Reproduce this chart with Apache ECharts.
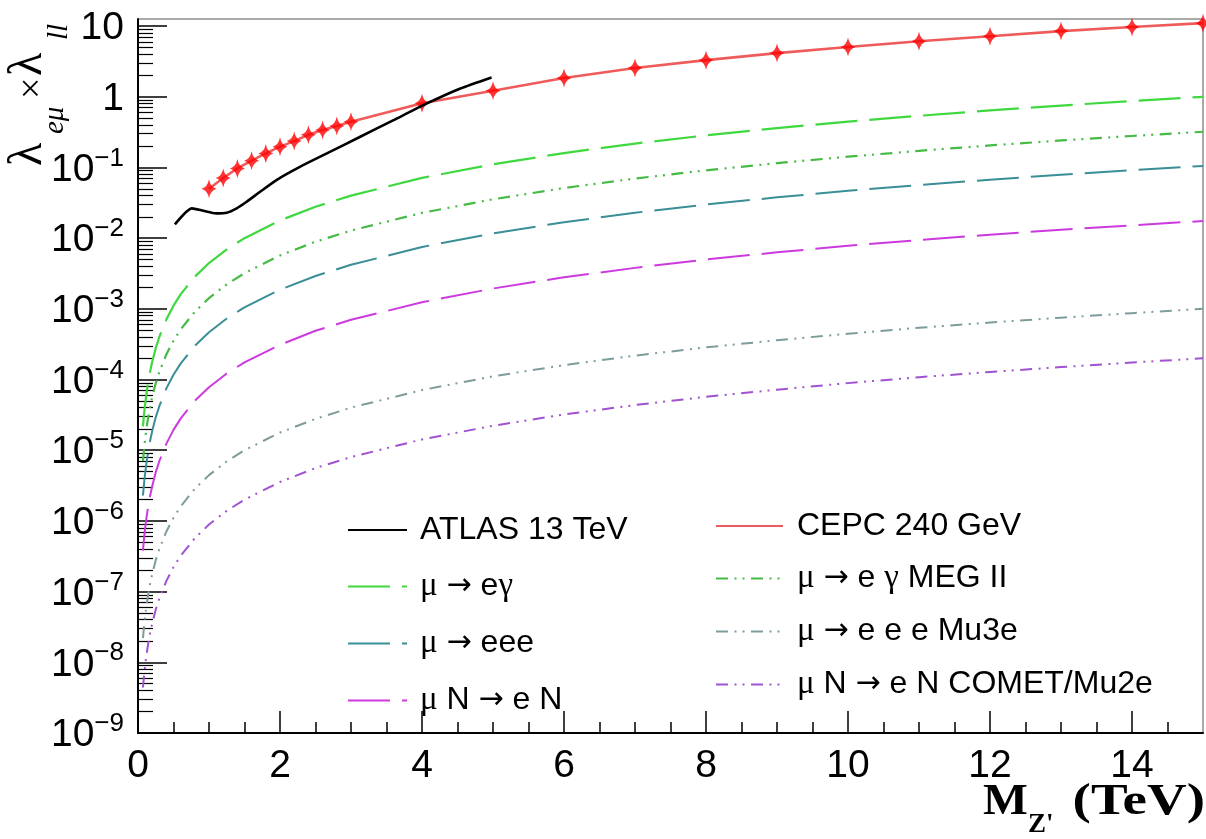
<!DOCTYPE html>
<html><head><meta charset="utf-8">
<script src="https://cdn.jsdelivr.net/npm/echarts@6/dist/echarts.min.js"></script>
<style>html,body{margin:0;padding:0;background:#fff}#c{width:1206px;height:839px}</style>
</head><body><div id="c"></div>
<script>
// ---- data ----
const massGrid = [0.07,0.08,0.09,0.1,0.12,0.14,0.17,0.2,0.25,0.3,0.4,0.5,0.6,0.8,1,1.25,1.5,2,2.5,3,4,5,6,7,8,9,10,11,12,13,14,15];
const muEgamma = [2.18e-5,2.85e-5,3.6e-5,4.45e-5,6.4e-5,8.7e-5,1.29e-4,1.78e-4,2.78e-4,4.0e-4,7.1e-4,1.11e-3,1.6e-3,2.85e-3,4.45e-3,6.95e-3,0.0100,0.0178,0.0278,0.040,0.0712,0.111,0.160,0.218,0.285,0.360,0.445,0.538,0.641,0.752,0.872,1.0];
const muEgammaMEG = [7.0e-6,9.1e-6,1.15e-5,1.42e-5,2.05e-5,2.78e-5,4.1e-5,5.7e-5,8.9e-5,1.28e-4,2.27e-4,3.55e-4,5.1e-4,9.1e-4,1.42e-3,2.22e-3,3.2e-3,5.7e-3,8.9e-3,0.0128,0.0228,0.0355,0.0512,0.0697,0.0912,0.115,0.142,0.172,0.205,0.241,0.279,0.32];
const muEee = [2.29e-6,2.99e-6,3.78e-6,4.67e-6,6.7e-6,9.1e-6,1.35e-5,1.87e-5,2.92e-5,4.2e-5,7.5e-5,1.17e-4,1.68e-4,2.99e-4,4.67e-4,7.3e-4,1.05e-3,1.87e-3,2.92e-3,4.2e-3,7.5e-3,0.0117,0.0168,0.0229,0.0299,0.0378,0.0467,0.0565,0.0672,0.079,0.0915,0.105];
const muNeN = [3.8e-7,5.0e-7,6.3e-7,7.8e-7,1.12e-6,1.52e-6,2.25e-6,3.1e-6,4.9e-6,7.0e-6,1.24e-5,1.94e-5,2.8e-5,5.0e-5,7.8e-5,1.22e-4,1.75e-4,3.1e-4,4.9e-4,7.0e-4,1.24e-3,1.94e-3,2.8e-3,3.8e-3,5.0e-3,6.3e-3,7.8e-3,9.4e-3,0.0112,0.0132,0.0152,0.0175];
const muEeeMu3e = [2.2e-8,2.85e-8,3.6e-8,4.45e-8,6.4e-8,8.7e-8,1.29e-7,1.78e-7,2.78e-7,4.0e-7,7.1e-7,1.11e-6,1.6e-6,2.85e-6,4.45e-6,6.95e-6,1.0e-5,1.78e-5,2.78e-5,4.0e-5,7.1e-5,1.11e-4,1.6e-4,2.18e-4,2.85e-4,3.6e-4,4.45e-4,5.4e-4,6.4e-4,7.5e-4,8.7e-4,1.0e-3];
const muNeNComet = [4.4e-9,5.7e-9,7.2e-9,8.9e-9,1.28e-8,1.74e-8,2.57e-8,3.56e-8,5.6e-8,8.0e-8,1.42e-7,2.22e-7,3.2e-7,5.7e-7,8.9e-7,1.39e-6,2.0e-6,3.56e-6,5.6e-6,8.0e-6,1.42e-5,2.22e-5,3.2e-5,4.36e-5,5.7e-5,7.2e-5,8.9e-5,1.08e-4,1.28e-4,1.5e-4,1.74e-4,2.0e-4];

const atlasMass = [0.52,0.76,0.92,1.1,1.25,1.39,1.53,1.72,1.95,2.28,2.66,3.13,3.6,4.07,4.54,4.98];
const atlasVal  = [0.0157,0.0264,0.0244,0.0224,0.0229,0.0264,0.0327,0.0453,0.0664,0.102,0.158,0.272,0.468,0.805,1.31,1.88];

const cepcMass = [1,1.2,1.4,1.6,1.8,2.0,2.2,2.4,2.6,2.8,3.0,4,5,6,7,8,9,10,11,12,13,14,15];
const cepcVal  = [0.050,0.071,0.097,0.125,0.158,0.197,0.236,0.29,0.34,0.387,0.445,0.81,1.22,1.84,2.55,3.3,4.15,5.05,6.1,7.2,8.5,9.7,11.0];

const yTickValues = [1e-9,1e-8,1e-7,1e-6,1e-5,1e-4,1e-3,1e-2,1e-1,1,10];
const xTickValues = [0,2,4,6,8,10,12,14];
const legendLeft = ['ATLAS 13 TeV','μ → eγ','μ → eee','μ N → e N'];
const legendRight = ['CEPC 240 GeV','μ → e γ MEG II','μ → e e e Mu3e','μ N → e N COMET/Mu2e'];

// ---- helpers ----
const pairs = (xs, ys) => xs.map((x, i) => [x, ys[i]]);
const yMinor = [];
for (let e = -9; e <= 0; e++) for (let k = 2; k <= 9; k++) yMinor.push(k * Math.pow(10, e));
const xMinor = [];
for (let v = 0.5; v < 15; v += 0.5) if (Math.abs(v / 2 - Math.round(v / 2)) > 1e-9) xMinor.push(v);

const SANS = 'Liberation Sans';
const SERIF = 'Liberation Serif';
const LONG = [42, 12];
const DDOT = [12, 6.5, 2, 6, 2, 6.5];

function curve(name, arr, color, dash, width) {
  return {
    name, type: 'line', data: pairs(massGrid, arr), symbol: 'none', showSymbol: false,
    smooth: false, xAxisIndex: 0, yAxisIndex: 0,
    lineStyle: { color, width: width || 2, type: dash, cap: 'butt' },
    itemStyle: { color }, emphasis: { disabled: true }, z: 2
  };
}

const legendRich = {
  g: { fontFamily: SERIF, fontSize: 33, color: '#000', lineHeight: 32 },
  a: { fontFamily: 'DejaVu Sans', fontSize: 30, color: '#000', lineHeight: 32 }
};
const legendFmt = name => name.replace(/([μγ])/g, '{g|$1}').replace(/→/g, '{a|→}');

const chart = echarts.init(document.getElementById('c'), null, { renderer: 'canvas' });
chart.setOption({
  animation: false,
  backgroundColor: '#ffffff',
  textStyle: { fontFamily: SANS },
  grid: { left: 138, right: 3, top: 19, bottom: 106, containLabel: false, outerBoundsMode: 'none',
          show: true, borderColor: '#555', borderWidth: 1, backgroundColor: 'transparent' },
  xAxis: [{
    type: 'value', min: 0, max: 15, position: 'bottom',
    axisLine: { show: true, onZero: false, lineStyle: { color: '#000', width: 2 } },
    axisTick: { show: true, inside: true, length: 22, customValues: xTickValues, lineStyle: { color: '#000', width: 1.5 } },
    axisLabel: { show: true, customValues: xTickValues, margin: 14, fontSize: 39, color: '#000', fontFamily: SANS },
    splitLine: { show: false }
  }, {
    type: 'value', min: 0, max: 15, position: 'bottom',
    axisLine: { show: false }, axisLabel: { show: false }, splitLine: { show: false },
    axisTick: { show: true, inside: true, length: 11, customValues: xMinor, lineStyle: { color: '#000', width: 1.5 } }
  }],
  yAxis: [{
    type: 'log', logBase: 10, min: 1e-9, max: 12.6, position: 'left',
    axisLine: { show: true, onZero: false, lineStyle: { color: '#000', width: 2 } },
    axisTick: { show: true, inside: true, length: 29, customValues: yTickValues, lineStyle: { color: '#000', width: 1.5 } },
    axisLabel: {
      show: true, customValues: yTickValues, margin: 14, color: '#000',
      formatter: function (v) {
        const e = Math.round(Math.log10(v));
        if (e === 0) return '{b|1}';
        if (e === 1) return '{b|10}';
        return '{b|10}{s|' + (e < 0 ? '\u2212' : '') + Math.abs(e) + '}';
      },
      rich: {
        b: { fontSize: 39, fontFamily: SANS, color: '#000', lineHeight: 44, verticalAlign: 'bottom' },
        s: { fontSize: 26, fontFamily: SANS, color: '#000', lineHeight: 20, verticalAlign: 'top' }
      }
    },
    splitLine: { show: false }
  }, {
    type: 'log', logBase: 10, min: 1e-9, max: 12.6, position: 'left',
    axisLine: { show: false }, axisLabel: { show: false }, splitLine: { show: false },
    axisTick: { show: true, inside: true, length: 15, customValues: yMinor, lineStyle: { color: '#000', width: 1.2 } }
  }],
  legend: [{
    data: legendLeft, left: 347, top: 514, orient: 'vertical', padding: 0,
    itemWidth: 59, itemHeight: 14, itemGap: 24, selectedMode: false,
    itemStyle: { opacity: 0 },
    formatter: legendFmt,
    textStyle: { fontSize: 32, fontFamily: SANS, color: '#000', lineHeight: 32, padding: [0, 0, 0, 8], rich: legendRich }
  }, {
    data: legendRight, left: 715, top: 510, orient: 'vertical', padding: 0,
    itemWidth: 67, itemHeight: 14, itemGap: 20, selectedMode: false,
    itemStyle: { opacity: 0 },
    formatter: legendFmt,
    textStyle: { fontSize: 32, fontFamily: SANS, color: '#000', lineHeight: 32, padding: [0, 0, 0, 9], rich: legendRich }
  }],
  series: [
    curve(legendLeft[1], muEgamma, '#3fd83f', LONG, 2.2),
    curve(legendRight[1], muEgammaMEG, '#45bb45', DDOT, 2.2),
    curve(legendLeft[2], muEee, '#3a8f96', LONG, 2),
    curve(legendLeft[3], muNeN, '#cc3ade', LONG, 2),
    curve(legendRight[2], muEeeMu3e, '#7e9c9c', DDOT, 2),
    curve(legendRight[3], muNeNComet, '#a052d2', DDOT, 2),
    {
      name: legendRight[0], type: 'line', data: pairs(cepcMass, cepcVal), symbol: 'none', showSymbol: false,
      lineStyle: { color: '#ef5b5b', width: 2.6 }, itemStyle: { color: '#ef5b5b' }, emphasis: { disabled: true }, z: 3
    },
    {
      name: 'CEPC markers', type: 'scatter', data: pairs(cepcMass, cepcVal),
      symbol: 'path://M0,-10 Q1.6,-1.6 8,0 Q1.6,1.6 0,10 Q-1.6,1.6 -8,0 Q-1.6,-1.6 0,-10 Z',
      symbolSize: [15, 19], itemStyle: { color: '#ff0000' }, emphasis: { disabled: true }, z: 4
    },
    {
      name: legendLeft[0], type: 'line', data: pairs(atlasMass, atlasVal), symbol: 'none', showSymbol: false,
      smooth: 0.2, lineStyle: { color: '#000', width: 2.6 }, itemStyle: { color: '#000' }, emphasis: { disabled: true }, z: 5
    }
  ],
  graphic: [
    { type: 'text', x: 28, y: 166, rotation: Math.PI / 2, style: { text: 'λ', fontSize: 48, fontFamily: SERIF, fill: '#000', align: 'left', verticalAlign: 'middle' } },
    { type: 'text', x: 55, y: 134, rotation: Math.PI / 2, style: { text: 'eμ', fontSize: 29, fontStyle: 'italic', fontFamily: SERIF, fill: '#000', align: 'left', verticalAlign: 'middle' } },
    { type: 'text', x: 33, y: 99, rotation: Math.PI / 2, style: { text: '×', fontSize: 38, fontFamily: SERIF, fill: '#000', align: 'left', verticalAlign: 'middle' } },
    { type: 'text', x: 28, y: 76, rotation: Math.PI / 2, style: { text: 'λ', fontSize: 48, fontFamily: SERIF, fill: '#000', align: 'left', verticalAlign: 'middle' } },
    { type: 'text', x: 59, y: 40, rotation: Math.PI / 2, style: { text: 'll', fontSize: 29, fontStyle: 'italic', fontFamily: SERIF, fill: '#000', align: 'left', verticalAlign: 'middle' } },
    { type: 'text', x: 983, y: 803, scaleX: 1.08, style: { text: 'M', fontSize: 44, fontWeight: 'bold', fontFamily: SERIF, fill: '#000', align: 'left', verticalAlign: 'middle' } },
    { type: 'text', x: 1028, y: 825, style: { text: "Z'", fontSize: 27, fontWeight: 'bold', fontFamily: SERIF, fill: '#000', align: 'left', verticalAlign: 'middle' } },
    { type: 'text', x: 1205, y: 803, scaleX: 1.25, style: { text: '(TeV)', fontSize: 44, fontWeight: 'bold', fontFamily: SERIF, fill: '#000', align: 'right', verticalAlign: 'middle' } }
  ]
});
</script>
</body></html>
